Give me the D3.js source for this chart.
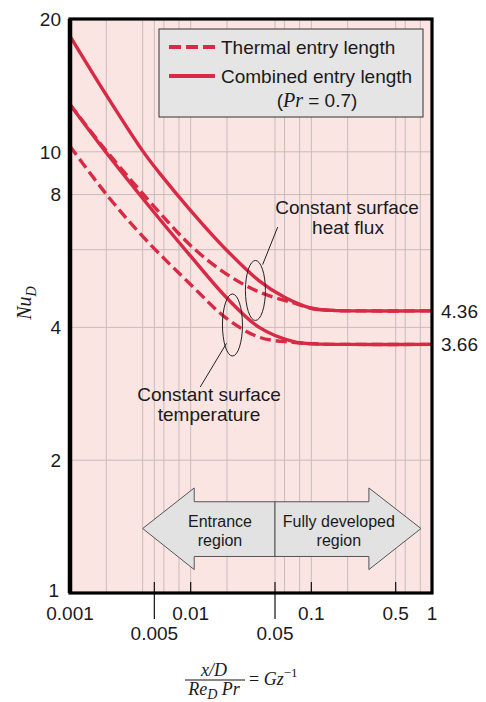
<!DOCTYPE html>
<html>
<head>
<meta charset="utf-8">
<script src="https://cdn.jsdelivr.net/npm/d3@7"></script>
<style>
  body { margin: 0; background: #fff; }
  svg { display: block; }
  text { font-family: "Liberation Sans", Arial, sans-serif; fill: #1a1a1a; }
  .serif { font-family: "Liberation Serif", "Times New Roman", serif; }
</style>
</head>
<body>
<div id="chart"></div>
<script>
var svgWidth = 486;
var svgHeight = 702;

var margin = { top: 19, right: 54, bottom: 109, left: 70 };
var width = svgWidth - margin.left - margin.right;
var height = svgHeight - margin.top - margin.bottom;

// Data: x = (x/D)/(Re_D Pr), y = Nu_D
var comboFluxX = [0.001, 0.002, 0.004, 0.0055, 0.01, 0.0197, 0.037, 0.06, 0.1, 0.15, 0.25, 1];
var comboFluxY = [18.3, 13.45, 10.05, 8.96, 7.36, 6.0, 5.1, 4.68, 4.42, 4.37, 4.36, 4.36];

var thermFluxX = [0.001, 0.002, 0.0055, 0.0104, 0.0197, 0.037, 0.07, 0.1, 0.15, 0.25, 1];
var thermFluxY = [12.8, 10.05, 7.29, 6.07, 5.29, 4.81, 4.55, 4.42, 4.37, 4.36, 4.36];

var comboTempX = [0.001, 0.002, 0.0055, 0.01, 0.0197, 0.037, 0.07, 0.12, 0.2, 1];
var comboTempY = [12.8, 9.95, 7.05, 5.8, 4.68, 4.0, 3.72, 3.665, 3.66, 3.66];

var thermTempX = [0.001, 0.0021, 0.0043, 0.0104, 0.0197, 0.037, 0.07, 0.12, 0.2, 1];
var thermTempY = [10.3, 7.88, 6.3, 4.95, 4.2, 3.80, 3.70, 3.665, 3.66, 3.66];

var xTicksTop = [0.001, 0.01, 0.1, 0.5, 1];
var xTicksLow = [0.005, 0.05];
var xTickMarks = [0.005, 0.01, 0.05, 0.1, 0.5];
var yTicks = [1, 2, 4, 8, 10, 20];
var xGrid = [0.002, 0.004, 0.005, 0.006, 0.008, 0.01, 0.02, 0.05, 0.06, 0.08, 0.1, 0.2, 0.5, 0.6, 0.8];
var yGrid = [2, 4, 6, 8, 10];
var limitValues = [4.36, 3.66];

var red = "#d82a44";

var svg = d3.select("#chart")
  .append("svg")
  .attr("width", svgWidth)
  .attr("height", svgHeight);

var chartGroup = svg.append("g")
  .attr("transform", `translate(${margin.left}, ${margin.top})`);

var xScale = d3.scaleLog().domain([0.001, 1]).range([0, width]);
var yScale = d3.scaleLog().domain([1, 20]).range([height, 0]);

// background + grid
chartGroup.append("rect")
  .attr("width", width).attr("height", height)
  .attr("fill", "#fae5e3");

chartGroup.selectAll(".vgrid").data(xGrid).enter().append("line")
  .attr("x1", d => xScale(d)).attr("x2", d => xScale(d))
  .attr("y1", 0).attr("y2", height)
  .attr("stroke", "#c6bcbc").attr("stroke-width", 1);

chartGroup.selectAll(".hgrid").data(yGrid).enter().append("line")
  .attr("x1", 0).attr("x2", width)
  .attr("y1", d => yScale(d)).attr("y2", d => yScale(d))
  .attr("stroke", "#c6bcbc").attr("stroke-width", 1);

// region arrows
var yMid = yScale(1.4), yHeadTop = yScale(1.73), yHeadBot = yScale(1.13);
var yShaftTop = yScale(1.61), yShaftBot = yScale(1.21);
var xDiv = xScale(0.05);
var xLTip = xScale(0.004), xLBack = xScale(0.0107);
var xRTip = xScale(0.81), xRBack = xScale(0.3);

chartGroup.append("path")
  .attr("d", `M${xDiv},${yShaftTop} L${xLBack},${yShaftTop} L${xLBack},${yHeadTop} L${xLTip},${yMid} L${xLBack},${yHeadBot} L${xLBack},${yShaftBot} L${xDiv},${yShaftBot} Z`)
  .attr("fill", "#e2e2e2").attr("stroke", "#555").attr("stroke-width", 1);
chartGroup.append("path")
  .attr("d", `M${xDiv},${yShaftTop} L${xRBack},${yShaftTop} L${xRBack},${yHeadTop} L${xRTip},${yMid} L${xRBack},${yHeadBot} L${xRBack},${yShaftBot} L${xDiv},${yShaftBot} Z`)
  .attr("fill", "#e2e2e2").attr("stroke", "#555").attr("stroke-width", 1);

var arrowText = [["Entrance", "region", xScale(0.0175)], ["Fully developed", "region", xScale(0.169)]];
arrowText.forEach(function(t) {
  chartGroup.append("text").attr("x", t[2]).attr("y", yMid - 2)
    .attr("text-anchor", "middle").style("font-size", "16px").text(t[0]);
  chartGroup.append("text").attr("x", t[2]).attr("y", yMid + 17)
    .attr("text-anchor", "middle").style("font-size", "16px").text(t[1]);
});

// curves
var line = d3.line()
  .x(d => xScale(d[0]))
  .y(d => yScale(d[1]))
  .curve(d3.curveCatmullRom.alpha(0.5));

var series = [
  { x: thermTempX, y: thermTempY, dash: "11,5" },
  { x: thermFluxX, y: thermFluxY, dash: "11,5" },
  { x: comboTempX, y: comboTempY, dash: null },
  { x: comboFluxX, y: comboFluxY, dash: null }
];

series.forEach(function(s) {
  chartGroup.append("path")
    .datum(d3.zip(s.x, s.y))
    .attr("d", line)
    .attr("fill", "none")
    .attr("stroke", red)
    .attr("stroke-width", 3.4)
    .attr("stroke-dasharray", s.dash);
});

// ellipse annotations
chartGroup.append("ellipse")
  .attr("cx", xScale(0.0344)).attr("cy", yScale(4.85))
  .attr("rx", 10).attr("ry", 30)
  .attr("fill", "none").attr("stroke", "#222").attr("stroke-width", 1);
chartGroup.append("line")
  .attr("x1", xScale(0.0395)).attr("y1", yScale(5.55))
  .attr("x2", xScale(0.0526)).attr("y2", yScale(6.75))
  .attr("stroke", "#222").attr("stroke-width", 1);
chartGroup.append("text").attr("x", 277).attr("y", 195)
  .attr("text-anchor", "middle").style("font-size", "19px").text("Constant surface");
chartGroup.append("text").attr("x", 278).attr("y", 215)
  .attr("text-anchor", "middle").style("font-size", "19px").text("heat flux");

chartGroup.append("ellipse")
  .attr("cx", xScale(0.0222)).attr("cy", yScale(4.05))
  .attr("rx", 10).attr("ry", 31)
  .attr("fill", "none").attr("stroke", "#222").attr("stroke-width", 1);
chartGroup.append("line")
  .attr("x1", xScale(0.0198)).attr("y1", yScale(3.68))
  .attr("x2", xScale(0.0120)).attr("y2", yScale(2.93))
  .attr("stroke", "#222").attr("stroke-width", 1);
chartGroup.append("text").attr("x", 139).attr("y", 382)
  .attr("text-anchor", "middle").style("font-size", "19px").text("Constant surface");
chartGroup.append("text").attr("x", 139).attr("y", 402)
  .attr("text-anchor", "middle").style("font-size", "19px").text("temperature");

// tick marks inside, long ones for 0.005 and 0.05
chartGroup.selectAll(".tick-in").data(xTickMarks).enter().append("line")
  .attr("x1", d => xScale(d)).attr("x2", d => xScale(d))
  .attr("y1", height - 11)
  .attr("y2", d => xTicksLow.indexOf(d) >= 0 ? height + 26 : height)
  .attr("stroke", "#111").attr("stroke-width", 1.2);

// frame
chartGroup.append("rect")
  .attr("width", width).attr("height", height)
  .attr("fill", "none").attr("stroke", "#000").attr("stroke-width", 3.2);
chartGroup.append("line")
  .attr("x1", 0).attr("x2", 0).attr("y1", 0).attr("y2", height)
  .attr("stroke", "#000").attr("stroke-width", 4.5);

// legend
var legend = chartGroup.append("g").attr("transform", "translate(89, 10)");
legend.append("rect")
  .attr("width", 264).attr("height", 88)
  .attr("fill", "#e5e5e5").attr("stroke", "#333").attr("stroke-width", 1);
legend.append("line").attr("x1", 10).attr("x2", 56).attr("y1", 18).attr("y2", 18)
  .attr("stroke", red).attr("stroke-width", 4).attr("stroke-dasharray", "12,5");
legend.append("line").attr("x1", 10).attr("x2", 56).attr("y1", 47).attr("y2", 47)
  .attr("stroke", red).attr("stroke-width", 4);
legend.append("text").attr("x", 62).attr("y", 25).style("font-size", "19px").text("Thermal entry length");
legend.append("text").attr("x", 62).attr("y", 54).style("font-size", "19px").text("Combined entry length");
var prText = legend.append("text").attr("x", 158).attr("y", 78)
  .attr("text-anchor", "middle").style("font-size", "19px");
prText.append("tspan").text("(");
prText.append("tspan").attr("class", "serif").style("font-style", "italic").style("font-size", "20px").text("Pr");
prText.append("tspan").text(" = 0.7)");

// axes labels
var fmt = d => d === 1 ? "1" : String(d);
chartGroup.selectAll(".xlab-top").data(xTicksTop).enter().append("text")
  .attr("x", d => xScale(d)).attr("y", height + 27)
  .attr("text-anchor", "middle").style("font-size", "19px").text(fmt);
chartGroup.selectAll(".xlab-low").data(xTicksLow).enter().append("text")
  .attr("x", d => xScale(d)).attr("y", height + 47)
  .attr("text-anchor", "middle").style("font-size", "19px").text(fmt);
chartGroup.selectAll(".ylab").data(yTicks).enter().append("text")
  .attr("x", d => d === 1 ? -11 : -9)
  .attr("y", d => d === 1 ? yScale(d) - 3 : yScale(d))
  .attr("dy", "0.36em")
  .attr("text-anchor", "end").style("font-size", "19px").text(d => d);

chartGroup.selectAll(".limit").data(limitValues).enter().append("text")
  .attr("x", width + 9).attr("y", d => yScale(d))
  .attr("dy", "0.36em")
  .style("font-size", "19px").text(d => d.toFixed(2));

// y axis title
var yTitle = svg.append("text")
  .attr("class", "serif")
  .attr("transform", "translate(31, 303) rotate(-90)")
  .attr("text-anchor", "middle")
  .style("font-size", "20px").style("font-style", "italic");
yTitle.append("tspan").text("Nu");
yTitle.append("tspan").attr("dy", 5).style("font-size", "14px").text("D");

// x axis title: fraction
var fx = 214;
svg.append("text").attr("class", "serif").attr("x", fx).attr("y", 676)
  .attr("text-anchor", "middle").style("font-size", "18px").style("font-style", "italic").text("x/D");
svg.append("line").attr("x1", 185).attr("x2", 245).attr("y1", 680).attr("y2", 680)
  .attr("stroke", "#111").attr("stroke-width", 1);
var den = svg.append("text").attr("class", "serif").attr("x", fx).attr("y", 695)
  .attr("text-anchor", "middle").style("font-size", "18px").style("font-style", "italic");
den.append("tspan").text("Re");
den.append("tspan").attr("dy", 4).style("font-size", "14px").text("D");
den.append("tspan").attr("dy", -4).text(" Pr");
var gz = svg.append("text").attr("class", "serif").attr("x", 249).attr("y", 685)
  .style("font-size", "18px");
gz.append("tspan").text("= ");
gz.append("tspan").style("font-style", "italic").text("Gz");
gz.append("tspan").attr("dy", -8).style("font-size", "13px").text("\u22121");
</script>
</body>
</html>
